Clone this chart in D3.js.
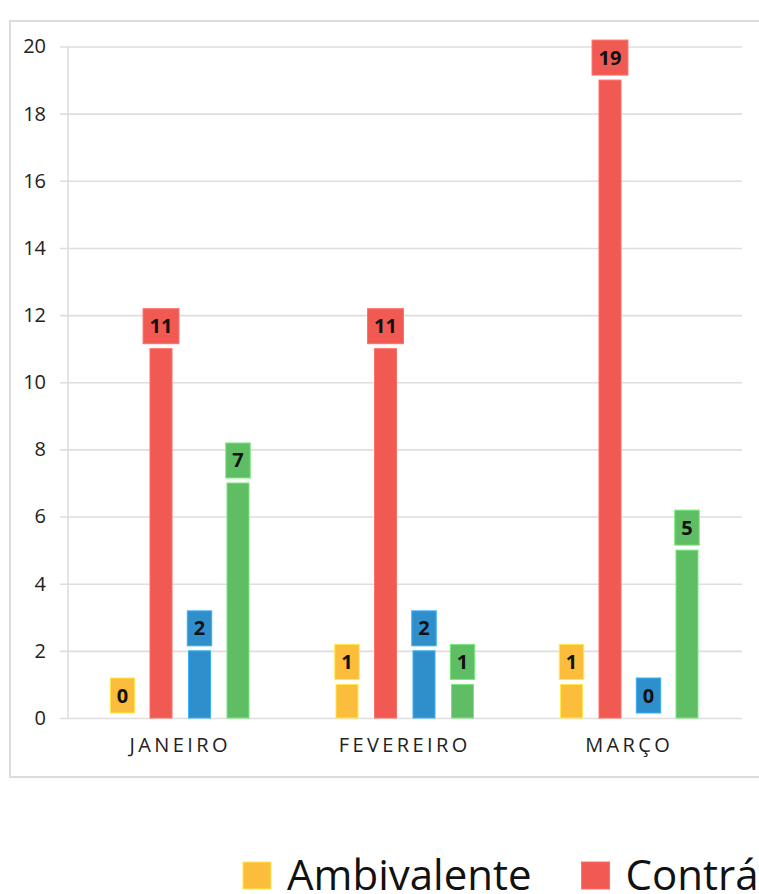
<!DOCTYPE html>
<html>
<head>
<meta charset="utf-8">
<script src="https://cdn.jsdelivr.net/npm/d3@7"></script>
<style>
  html, body { margin: 0; padding: 0; background: #fff; overflow: hidden; }
  svg { display: block; font-family: "Open Sans", "Noto Sans", sans-serif; }
</style>
</head>
<body>
<svg id="chart" width="759" height="894"></svg>
<script>
// Monthly counts per position
const months = ["JANEIRO", "FEVEREIRO", "MARÇO"];
const seriesNames = ["Ambivalente", "Contrário", "Neutro", "Favorável"];
const seriesColors = ["#fbbd3b", "#f15a52", "#2e8fcb", "#5fbd63"];
const ambivalente = [0, 1, 1];
const contrario = [11, 11, 19];
const neutro = [2, 2, 0];
const favoravel = [7, 1, 5];
const yTicks = [0, 2, 4, 6, 8, 10, 12, 14, 16, 18, 20];

const seriesValues = [ambivalente, contrario, neutro, favoravel];
const rows = [];
months.forEach((m, i) => {
  seriesNames.forEach((s, j) => {
    rows.push({ month: m, series: s, value: seriesValues[j][i], color: seriesColors[j] });
  });
});

const svg = d3.select("#chart");

// outer frame
svg.append("rect")
  .attr("x", 10).attr("y", 21)
  .attr("width", 800).attr("height", 756)
  .attr("fill", "none").attr("stroke", "#dcdcdc").attr("stroke-width", 2);

const x0 = d3.scaleBand().domain(months).range([68, 741.5]).padding(0);
const groupW = 154;
const x1 = d3.scaleBand().domain(seriesNames)
  .range([-groupW / 2, groupW / 2])
  .paddingInner(0.4286).paddingOuter(0.2143);
const y = d3.scaleLinear().domain([0, 20]).range([718, 46.5]);

// horizontal grid + tick labels
const yAxis = svg.append("g")
  .attr("transform", "translate(60,0)")
  .call(d3.axisLeft(y).tickValues(yTicks).tickSize(-(742 - 60)).tickPadding(14));
yAxis.select(".domain").remove();
yAxis.selectAll(".tick line").attr("stroke", "#dedede").attr("stroke-width", 1.6);
yAxis.selectAll(".tick text")
  .attr("fill", "#222").attr("font-size", 20)
  .attr("font-family", "Open Sans, Noto Sans, sans-serif");

// vertical axis line
svg.append("line")
  .attr("x1", 68).attr("x2", 68)
  .attr("y1", y(20)).attr("y2", y(0))
  .attr("stroke", "#dedede").attr("stroke-width", 1.6);

// category labels
const xAxis = svg.append("g")
  .attr("transform", `translate(0,${y(0)})`)
  .call(d3.axisBottom(x0).tickSize(0).tickPadding(20));
xAxis.select(".domain").remove();
xAxis.selectAll(".tick text")
  .attr("fill", "#222").attr("font-size", 20)
  .attr("letter-spacing", "3.4px")
  .attr("font-family", "Open Sans, Noto Sans, sans-serif");

const barW = x1.bandwidth();
const cx = d => x0(d.month) + x0.bandwidth() / 2 + x1(d.series) + barW / 2;

// bars
svg.append("g").selectAll("rect")
  .data(rows.filter(d => d.value > 0))
  .join("rect")
  .attr("x", d => cx(d) - barW / 2)
  .attr("y", d => y(d.value))
  .attr("width", barW)
  .attr("height", d => y(0) - y(d.value))
  .attr("fill", d => d.color)
  .attr("stroke", d => d3.color(d.color).brighter(0.6))
  .attr("stroke-width", 1);

// value labels in coloured boxes
const lab = svg.append("g").selectAll("g")
  .data(rows)
  .join("g")
  .attr("transform", d => `translate(${cx(d)},${y(d.value) - 5})`);

lab.append("text")
  .attr("text-anchor", "middle")
  .attr("y", -10.5)
  .attr("font-size", 20)
  .attr("font-weight", "bold")
  .attr("fill", "#111")
  .text(d => d.value);

lab.each(function (d) {
  const g = d3.select(this);
  const w = g.select("text").node().getComputedTextLength() + 13;
  g.insert("rect", "text")
    .attr("x", -w / 2).attr("y", -35)
    .attr("width", w).attr("height", 35)
    .attr("fill", d.color)
    .attr("stroke", d3.color(d.color).brighter(0.6))
    .attr("stroke-width", 1);
});

// legend
const legend = svg.append("g").attr("transform", "translate(243,862)");
let lx = 0;
seriesNames.forEach((s, j) => {
  const item = legend.append("g").attr("transform", `translate(${lx},0)`);
  item.append("rect")
    .attr("width", 28).attr("height", 27)
    .attr("fill", seriesColors[j])
    .attr("stroke", d3.color(seriesColors[j]).brighter(0.6)).attr("stroke-width", 1);
  const t = item.append("text")
    .attr("x", 44).attr("y", 28)
    .attr("font-size", 42)
    .attr("fill", "#111")
    .text(s);
  lx += 44 + t.node().getComputedTextLength() + 50;
});
</script>
</body>
</html>
